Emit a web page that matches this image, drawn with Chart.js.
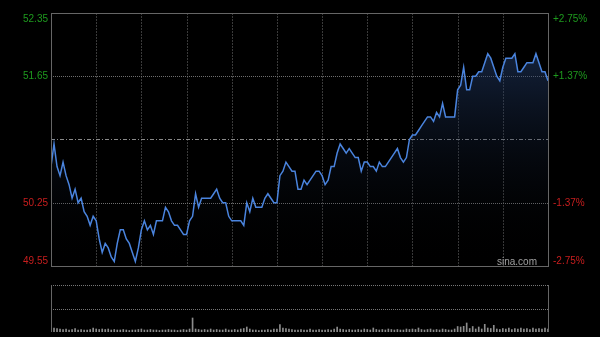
<!DOCTYPE html>
<html>
<head>
<meta charset="utf-8">
<script src="https://cdn.jsdelivr.net/npm/chart.js@4/dist/chart.umd.min.js"></script>
<style>
  html, body { margin: 0; padding: 0; background: #000; width: 600px; height: 337px; overflow: hidden; }
  #wrap { position: relative; width: 600px; height: 337px; background: #000; }
  #price { position: absolute; left: 0; top: 0; width: 600px; height: 275px; }
  #vol { position: absolute; left: 0; top: 275px; width: 600px; height: 62px; }
</style>
</head>
<body>
<div id="wrap">
  <canvas id="price" width="600" height="275"></canvas>
  <canvas id="vol" width="600" height="62"></canvas>
</div>
<script>
// Intraday session: 330 trading minutes, one sample every 2 minutes
const SESSION_MINUTES = 330;
const STEP_MINUTES = 2;
const prevClose = 50.95;
const priceLabels = [52.35, 51.65, 50.25, 49.55];

const prices = [
  50.65, 50.90, 50.65, 50.55, 50.70, 50.55, 50.45, 50.30, 50.40, 50.25,
  50.30, 50.15, 50.10, 50.00, 50.10, 50.05, 49.85, 49.70, 49.80, 49.75,
  49.65, 49.60, 49.80, 49.95, 49.95, 49.85, 49.80, 49.70, 49.60, 49.75,
  49.95, 50.05, 49.95, 50.00, 49.90, 50.05, 50.05, 50.05, 50.20, 50.15,
  50.05, 50.00, 50.00, 49.95, 49.90, 49.90, 50.05, 50.10, 50.35, 50.20,
  50.30, 50.30, 50.30, 50.30, 50.35, 50.40, 50.30, 50.25, 50.25, 50.10,
  50.05, 50.05, 50.05, 50.05, 50.00, 50.25, 50.15, 50.30, 50.20, 50.20,
  50.20, 50.30, 50.35, 50.30, 50.25, 50.25, 50.55, 50.60, 50.70, 50.65,
  50.60, 50.60, 50.40, 50.40, 50.50, 50.45, 50.50, 50.55, 50.60, 50.60,
  50.55, 50.45, 50.50, 50.65, 50.65, 50.80, 50.90, 50.85, 50.80, 50.85,
  50.80, 50.75, 50.75, 50.60, 50.70, 50.70, 50.65, 50.65, 50.60, 50.70,
  50.65, 50.65, 50.70, 50.75, 50.80, 50.85, 50.75, 50.70, 50.75, 50.95,
  51.00, 51.00, 51.05, 51.10, 51.15, 51.20, 51.20, 51.15, 51.25, 51.20,
  51.35, 51.20, 51.20, 51.20, 51.20, 51.50, 51.55, 51.75, 51.50, 51.50,
  51.65, 51.65, 51.70, 51.70, 51.80, 51.90, 51.85, 51.75, 51.65, 51.60,
  51.75, 51.85, 51.85, 51.85, 51.90, 51.70, 51.70, 51.75, 51.80, 51.80,
  51.80, 51.90, 51.80, 51.70, 51.70, 51.60
];

const volumes = [
  6.7, 4, 3.5, 3, 2.5, 3, 2, 2.5, 3.5, 2,
  2.5, 2, 2, 2.5, 4, 3, 2.5, 3, 2.5, 3,
  2, 2.5, 2, 2, 2.5, 2, 1.5, 2, 2, 2.5,
  3, 2, 2, 2.5, 2, 2, 1.5, 2, 2, 2.5,
  2, 2, 1.5, 2, 2.5, 2, 3, 14, 3, 2.5,
  2, 2.5, 2, 3, 2, 2.5, 2, 2, 3, 2,
  2, 2.5, 2, 3, 3.5, 5, 3, 2, 2, 1.5,
  2, 2, 2.5, 2, 3, 3, 7.5, 4, 3.5, 3,
  2.5, 2, 2, 2.5, 2, 2, 3, 2, 2, 2.5,
  2, 2, 2.5, 2, 3, 5, 3, 2.5, 2, 2.5,
  2, 2, 2.5, 2, 3, 2.5, 2, 4, 2.5, 2,
  2.5, 2, 3, 2.5, 2, 2.5, 2, 2, 3, 2.5,
  3, 2.5, 4, 2.5, 2, 2.5, 3, 2, 2.5, 2,
  3, 2.5, 2, 2, 3, 5.5, 5, 5.7, 9, 3.5,
  5.5, 3, 5, 3, 7.7, 4, 3.5, 6.7, 3, 2.5,
  3.5, 3, 4, 2.5, 3.5, 3, 4, 3, 3.5, 2.5,
  4, 3, 3.5, 3, 4, 3
];

const UP = '#1e9b1e';
const DOWN = '#c81e1e';
const FONT = '10px "Liberation Sans", Arial, sans-serif';

const pricePoints = prices.map((p, i) => ({ x: i * STEP_MINUTES, y: p }));
const volumePoints = volumes.map((v, i) => ({ x: i * STEP_MINUTES, y: v }));

function crisp(v) { return Math.round(v) + 0.5; }

function hLine(ctx, area, y, color, dash) {
  ctx.save();
  ctx.strokeStyle = color;
  ctx.lineWidth = 1;
  ctx.setLineDash(dash);
  ctx.beginPath();
  ctx.moveTo(area.left, crisp(y));
  ctx.lineTo(area.right, crisp(y));
  ctx.stroke();
  ctx.restore();
}

function vLine(ctx, x, top, bottom, color, dash) {
  ctx.save();
  ctx.strokeStyle = color;
  ctx.lineWidth = 1;
  ctx.setLineDash(dash);
  ctx.beginPath();
  ctx.moveTo(crisp(x), top);
  ctx.lineTo(crisp(x), bottom);
  ctx.stroke();
  ctx.restore();
}

// Grid, frame, price / percent labels and watermark of the price panel
const priceFrame = {
  id: 'priceFrame',
  beforeDatasetsDraw(chart) {
    const { ctx, chartArea: a, scales: { x, y } } = chart;
    for (let m = 30; m < SESSION_MINUTES; m += 30) {
      vLine(ctx, x.getPixelForValue(m), a.top, a.bottom, '#3a3a3a', [2, 1]);
    }
    priceLabels.forEach(p => {
      if (p > y.min && p < y.max) hLine(ctx, a, y.getPixelForValue(p), '#6e6e6e', [1, 1]);
    });
    hLine(ctx, a, y.getPixelForValue(prevClose), '#8a8a8a', [4, 2, 1, 2]);
  },
  afterDatasetsDraw(chart) {
    const { ctx, chartArea: a, scales: { y } } = chart;
    ctx.save();
    ctx.strokeStyle = '#666';
    ctx.lineWidth = 1;
    ctx.setLineDash([]);
    ctx.strokeRect(crisp(a.left), crisp(a.top), Math.round(a.right - a.left), Math.round(a.bottom - a.top));

    ctx.font = FONT;
    ctx.textBaseline = 'middle';
    priceLabels.forEach(p => {
      let py = y.getPixelForValue(p);
      py = Math.min(Math.max(py, a.top + 6), a.bottom - 5);
      const color = p > prevClose ? UP : DOWN;
      const pct = (p / prevClose - 1) * 100;
      ctx.fillStyle = color;
      ctx.textAlign = 'right';
      ctx.fillText(p.toFixed(2), a.left - 3, py);
      ctx.textAlign = 'left';
      ctx.fillText((pct > 0 ? '+' : '') + pct.toFixed(2) + '%', a.right + 5, py);
    });

    ctx.fillStyle = '#a0a0a0';
    ctx.textAlign = 'right';
    ctx.fillText('sina.com', a.right - 11, a.bottom - 4);
    ctx.restore();
  }
};

// Frame and grid of the volume panel
const volumeFrame = {
  id: 'volumeFrame',
  beforeDatasetsDraw(chart) {
    const { ctx, chartArea: a } = chart;
    hLine(ctx, a, a.top, '#777', [1, 1]);
    hLine(ctx, a, (a.top + a.bottom) / 2, '#777', [1, 1]);
  },
  afterDatasetsDraw(chart) {
    const { ctx, chartArea: a } = chart;
    vLine(ctx, a.left, a.top, a.bottom, '#666', []);
    vLine(ctx, a.right, a.top, a.bottom, '#666', []);
  }
};

new Chart(document.getElementById('price'), {
  type: 'line',
  data: {
    datasets: [{
      data: pricePoints,
      borderColor: '#4a84de',
      borderWidth: 1.5,
      pointRadius: 0,
      tension: 0,
      fill: 'start',
      backgroundColor: (c) => {
        const a = c.chart.chartArea;
        if (!a) return 'rgba(0,0,0,0)';
        const g = c.chart.ctx.createLinearGradient(0, a.top, 0, a.bottom);
        g.addColorStop(0, 'rgba(46,78,136,0.6)');
        g.addColorStop(1, 'rgba(0,0,0,0)');
        return g;
      }
    }]
  },
  options: {
    responsive: false,
    animation: false,
    layout: { padding: { left: 51, right: 52, top: 13, bottom: 9 } },
    plugins: { legend: { display: false }, tooltip: { enabled: false } },
    scales: {
      x: { type: 'linear', min: 0, max: SESSION_MINUTES, display: false },
      y: { min: priceLabels[priceLabels.length - 1], max: priceLabels[0], display: false }
    }
  },
  plugins: [priceFrame]
});

new Chart(document.getElementById('vol'), {
  type: 'bar',
  data: {
    datasets: [{
      data: volumePoints,
      backgroundColor: '#8c8c8c',
      barThickness: 1,
      borderWidth: 0
    }]
  },
  options: {
    responsive: false,
    animation: false,
    layout: { padding: { left: 51, right: 52, top: 10, bottom: 5 } },
    plugins: { legend: { display: false }, tooltip: { enabled: false } },
    scales: {
      x: { type: 'linear', min: 0, max: SESSION_MINUTES, offset: false, display: false },
      y: { min: 0, max: 47, display: false }
    }
  },
  plugins: [volumeFrame]
});
</script>
</body>
</html>
